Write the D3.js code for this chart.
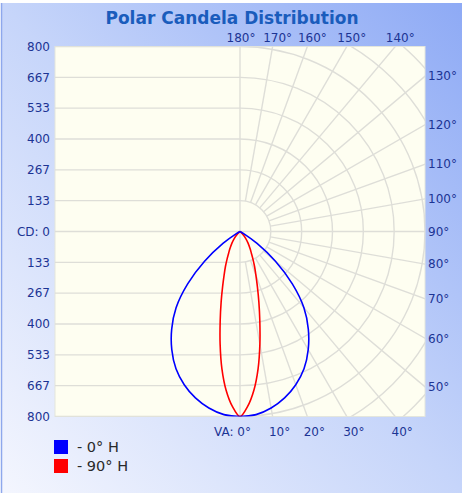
<!DOCTYPE html>
<html>
<head>
<meta charset="utf-8">
<script src="https://cdn.jsdelivr.net/npm/d3@7"></script>
<style>
  html, body { margin: 0; padding: 0; background: #ffffff; }
  svg { display: block; }
</style>
</head>
<body>
<div id="chart"></div>
<script>
// vertical angles (deg) and candela values for each horizontal plane
var va0H  = [0, 5, 10, 15, 20, 25, 30, 35, 40, 45, 50, 55, 60, 65, 90];
var cd0H  = [800, 795, 775, 745, 705, 655, 590, 515, 430, 320, 200, 90, 20, 0, 0];

var va90H = [0, 2.5, 5, 7.5, 10, 12.5, 15, 17.5, 20, 22.5, 25, 27.5, 30, 35, 40, 45, 50, 55, 90];
var cd90H = [800, 757, 689, 599, 495, 396, 315, 250, 201, 165, 133, 107, 89, 60, 37, 18, 6, 0, 0];

var seriesNames = ["- 0\u00b0 H", "- 90\u00b0 H"];
var seriesColors = ["#0000ff", "#ff0000"];

var cdTickLabels = ["800", "667", "533", "400", "267", "133", "CD: 0", "133", "267", "400", "533", "667", "800"];
var angleTicks = [0, 10, 20, 30, 40, 50, 60, 70, 80, 90, 100, 110, 120, 130, 140, 150, 160, 170, 180];

var W = 466, H = 495;
var cx = 240, cy = 231.5, R = 185;
var maxCd = 800;

var svg = d3.select("#chart").append("svg")
	.attr("width", W)
	.attr("height", H);

var defs = svg.append("defs");
var grad = defs.append("linearGradient")
	.attr("id", "bg")
	.attr("x1", 0).attr("y1", 1)
	.attr("x2", 1).attr("y2", 0);
grad.append("stop").attr("offset", 0).attr("stop-color", "#f4f6fe");
grad.append("stop").attr("offset", 0.5).attr("stop-color", "#c6d5fa");
grad.append("stop").attr("offset", 1).attr("stop-color", "#8eaaf5");

defs.append("clipPath").attr("id", "plotclip")
	.append("rect")
	.attr("x", cx - R).attr("y", cy - R)
	.attr("width", 2 * R).attr("height", 2 * R);

// panel
svg.append("rect")
	.attr("x", 1).attr("y", 3)
	.attr("width", 461).attr("height", 490)
	.attr("fill", "url(#bg)");
svg.append("line")
	.attr("x1", 1.5).attr("x2", 1.5)
	.attr("y1", 3).attr("y2", 493)
	.attr("stroke", "#8ea8ec").attr("stroke-width", 1.5);

svg.append("text")
	.attr("x", 232).attr("y", 24)
	.attr("text-anchor", "middle")
	.attr("font-family", "DejaVu Sans, Verdana, sans-serif")
	.attr("font-weight", "bold")
	.attr("font-size", "17px")
	.attr("fill", "#1a5cbc")
	.text("Polar Candela Distribution");

// plot box
svg.append("rect")
	.attr("x", cx - R).attr("y", cy - R)
	.attr("width", 2 * R).attr("height", 2 * R)
	.attr("fill", "#fefef1")
	.attr("stroke", "#e4e6dc")
	.attr("stroke-width", 1);

var r = d3.scaleLinear().domain([0, maxCd]).range([0, R]);
var yTick = d3.scaleLinear().domain([0, cdTickLabels.length - 1]).range([cy - R, cy + R]);

var toRad = function(a) { return a * Math.PI / 180; };
var polarX = function(a, v) { return cx + r(v) * Math.sin(toRad(a)); };
var polarY = function(a, v) { return cy + r(v) * Math.cos(toRad(a)); };

var grid = svg.append("g")
	.attr("clip-path", "url(#plotclip)")
	.attr("fill", "none")
	.attr("stroke", "#dedeD8")
	.attr("stroke-width", 1.4);

// horizontal lines on left half
grid.selectAll("line.h")
	.data(cdTickLabels)
	.enter().append("line")
	.attr("class", "h")
	.attr("x1", cx - R).attr("x2", cx)
	.attr("y1", function(d, i) { return yTick(i); })
	.attr("y2", function(d, i) { return yTick(i); });

// arcs on the right half
var ringStep = maxCd / 6;
var rings = d3.range(1, 9).map(function(k) { return k * ringStep; });
grid.selectAll("path.ring")
	.data(rings)
	.enter().append("path")
	.attr("class", "ring")
	.attr("transform", "translate(" + cx + "," + cy + ")")
	.attr("d", function(d) {
		var p = d3.path();
		p.arc(0, 0, r(d), -Math.PI / 2, Math.PI / 2, false);
		return p.toString();
	});

// radial lines
grid.selectAll("line.spoke")
	.data(angleTicks.filter(function(a) { return a > 0 && a < 180; }))
	.enter().append("line")
	.attr("class", "spoke")
	.attr("x1", function(a) { return a === 90 ? cx : polarX(a, ringStep); })
	.attr("y1", function(a) { return a === 90 ? cy : polarY(a, ringStep); })
	.attr("x2", function(a) { return polarX(a, maxCd * 2); })
	.attr("y2", function(a) { return polarY(a, maxCd * 2); });

grid.append("line")
	.attr("x1", cx).attr("x2", cx)
	.attr("y1", cy - R).attr("y2", cy + R);

// curves
var line = d3.line()
	.x(function(d) { return polarX(d[0], d[1]); })
	.y(function(d) { return polarY(d[0], d[1]); })
	.curve(d3.curveCatmullRom.alpha(0.5));

var buildPoints = function(angles, values) {
	var pts = [];
	for (var i = angles.length - 1; i >= 0; i--) pts.push([-angles[i], values[i]]);
	for (var j = 1; j < angles.length; j++) pts.push([angles[j], values[j]]);
	// drop repeated points at the centre
	return pts.filter(function(p, i) {
		if (i === 0) return true;
		return !(p[1] === 0 && pts[i - 1][1] === 0);
	});
};

var series = [
	{ angles: va90H, values: cd90H, color: seriesColors[1] },
	{ angles: va0H, values: cd0H, color: seriesColors[0] }
];
svg.append("g")
	.attr("clip-path", "url(#plotclip)")
	.selectAll("path")
	.data(series)
	.enter().append("path")
	.attr("d", function(d) { return line(buildPoints(d.angles, d.values)); })
	.attr("fill", "none")
	.attr("stroke", function(d) { return d.color; })
	.attr("stroke-width", 1.6);

// left labels
var labelFont = "DejaVu Sans, Verdana, sans-serif";
var labelColor = "#1c3494";
svg.append("g").selectAll("text")
	.data(cdTickLabels)
	.enter().append("text")
	.attr("x", 50)
	.attr("y", function(d, i) { return yTick(i); })
	.attr("dy", "0.35em")
	.attr("text-anchor", "end")
	.attr("font-family", labelFont)
	.attr("font-size", "12px")
	.attr("fill", labelColor)
	.text(function(d) { return d; });

// angle labels where each spoke meets the box
var edgeHit = function(a) {
	var s = Math.sin(toRad(a)), c = Math.cos(toRad(a));
	var t = Math.min(Math.abs(s) > 1e-9 ? R / Math.abs(s) : Infinity, Math.abs(c) > 1e-9 ? R / Math.abs(c) : Infinity);
	var x = cx + t * s, y = cy + t * c;
	var edge = Math.abs(x - (cx + R)) < 0.5 ? "right" : (c > 0 ? "bottom" : "top");
	return { x: x, y: y, edge: edge };
};

svg.append("g").selectAll("text")
	.data(angleTicks)
	.enter().append("text")
	.each(function(a) {
		var h = edgeHit(a);
		var t = d3.select(this)
			.attr("font-family", labelFont)
			.attr("font-size", "12px")
			.attr("fill", labelColor)
			.attr("dy", "0.35em");
		if (h.edge === "right") {
			t.attr("x", cx + R + 3).attr("y", h.y).attr("text-anchor", "start").text(a + "\u00b0");
		} else if (h.edge === "bottom") {
			if (a === 0) {
				t.attr("x", h.x + 11).attr("y", cy + R + 15).attr("text-anchor", "end").text("VA: 0\u00b0");
			} else {
				t.attr("x", h.x + 7).attr("y", cy + R + 15).attr("text-anchor", "middle").text(a + "\u00b0");
			}
		} else {
			t.attr("x", h.x + (a === 180 ? 1 : 5)).attr("y", cy - R - 9).attr("text-anchor", "middle").text(a + "\u00b0");
		}
	});

// legend
var legend = svg.append("g").attr("transform", "translate(54,440)");
var items = legend.selectAll("g")
	.data(seriesNames)
	.enter().append("g")
	.attr("transform", function(d, i) { return "translate(0," + (i * 19) + ")"; });
items.append("rect")
	.attr("width", 14).attr("height", 14)
	.attr("fill", function(d, i) { return seriesColors[i]; });
items.append("text")
	.attr("x", 23).attr("y", 7)
	.attr("dy", "0.36em")
	.attr("font-family", labelFont)
	.attr("font-size", "14.5px")
	.attr("fill", "#2a2a2a")
	.text(function(d) { return d; });
</script>
</body>
</html>
